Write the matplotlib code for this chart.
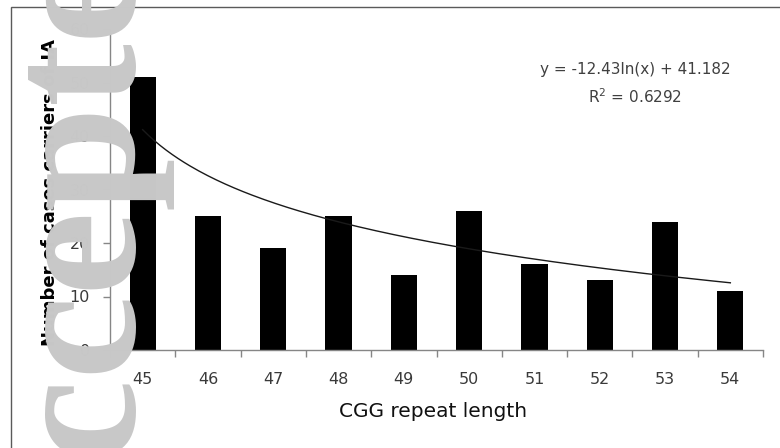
import matplotlib
matplotlib.use("Agg")
import matplotlib.pyplot as plt
import numpy as np
from matplotlib.patches import Rectangle

categories = ["45", "46", "47", "48", "49", "50", "51", "52", "53", "54"]
cases = [51, 25, 19, 25, 14, 26, 16, 13, 24, 11]
y_ticks = [0, 10, 20, 30, 40, 50, 60]
trend_a = -12.43
trend_b = 41.182
eq_text = "y = -12.43ln(x) + 41.182"
r2_text = "R$^2$ = 0.6292"

W, H = 780, 448
fig = plt.figure(figsize=(W / 100, H / 100), dpi=100)
fig.patch.set_facecolor("white")

# outer chart border
fig.patches.append(Rectangle((11 / W, -0.1), 1.2, (448 - 7) / H + 0.1,
                             transform=fig.transFigure, fill=False,
                             edgecolor="#5a5a5a", linewidth=1.0, zorder=0))

ax = fig.add_axes([110 / W, (H - 350) / H, (763 - 110) / W, (350 - 29) / H])
x = np.arange(len(categories))
ax.bar(x, cases, width=0.4, color="black", zorder=2)

xs = np.linspace(1, len(categories), 200)
ax.plot(xs - 1, trend_a * np.log(xs) + trend_b, color="#1a1a1a", linewidth=1.0, zorder=3)

ax.set_xlim(-0.5, len(categories) - 0.5)
ax.set_ylim(0, 60)
ax.set_xticks(np.arange(-0.5, len(categories), 1.0))
ax.set_xticklabels([])
ax.set_xticks(x, minor=True)
ax.set_xticklabels(categories, minor=True)
ax.tick_params(axis="x", which="major", length=5, color="#868686", width=1)
ax.tick_params(axis="x", which="minor", length=0, pad=15.5, labelsize=11.5, labelcolor="#3a3a3a")
ax.set_yticks(y_ticks)
ax.tick_params(axis="y", length=5, color="#868686", width=1, labelsize=11.5,
               labelcolor="#3a3a3a", pad=9.4)
for lbl in ax.get_xticklabels(minor=True) + ax.get_yticklabels():
    lbl.set_family(["DejaVu Sans"])
for s in ["top", "right"]:
    ax.spines[s].set_visible(False)
for s in ["left", "bottom"]:
    ax.spines[s].set_color("#868686")
    ax.spines[s].set_linewidth(1)

fig.text(433 / W, 1 - 417 / H, "CGG repeat length", ha="center", va="baseline",
         family=["DejaVu Sans"], fontsize=14.5, color="#111111")
fig.text(50 / W, 1 - 193 / H, "Number of cases carriers of IA", rotation=90,
         ha="center", va="center", family=["DejaVu Sans"], fontweight="bold",
         fontsize=13, color="black")

fig.text(635 / W, 1 - 69 / H, eq_text, ha="center", va="center",
         family=["DejaVu Sans"], fontsize=11, color="#404040")
fig.text(635 / W, 1 - 97 / H, r2_text, ha="center", va="center",
         family=["DejaVu Sans"], fontsize=11, color="#404040")

# watermark
fig.text(133 / W, (H - 597) / H, "Accepted", rotation=90, rotation_mode="anchor",
         ha="left", va="baseline", family=["Liberation Serif", "DejaVu Serif"],
         fontweight="bold", fontsize=136, color="#c8c8c8", zorder=10)

fig.savefig("out.png", dpi=100)
